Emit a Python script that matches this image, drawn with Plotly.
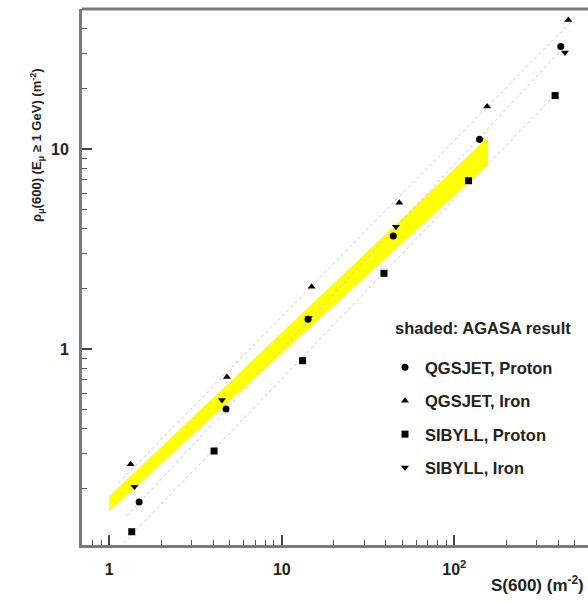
import numpy as np
import plotly.graph_objects as go

# ---- data ----
qgs_fe_s = [1.33, 4.81, 14.9, 48.0, 155, 458]
qgs_fe_rho = [0.265, 0.724, 2.05, 5.39, 16.3, 44.2]

qgs_p_s = [1.49, 4.75, 14.2, 44.3, 140, 414]
qgs_p_rho = [0.172, 0.501, 1.41, 3.67, 11.2, 32.5]

sib_p_s = [1.35, 4.05, 13.2, 39.1, 121, 384]
sib_p_rho = [0.122, 0.309, 0.874, 2.39, 6.94, 18.5]

sib_fe_s = [1.40, 4.50, 14.3, 45.9, 141, 438]
sib_fe_rho = [0.205, 0.556, 1.43, 4.09, 11.1, 30.4]

agasa_s = [1.0, 157]
agasa_hi = [0.184, 11.5]
agasa_lo = [0.155, 8.4]

x_tickvals = [1, 10, 100]
x_ticktext = ["<b>1</b>", "<b>10</b>", "<b>10<sup>2</sup></b>"]
y_tickvals = [0.1, 1, 10]
y_ticktext = ["<b>10<sup>-1</sup></b>", "<b>1</b>", "<b>10</b>"]

FONT = "Liberation Sans, Arial, sans-serif"

fig = go.Figure()

# AGASA shaded band
fig.add_trace(go.Scatter(
    x=agasa_s + agasa_s[::-1], y=agasa_hi + agasa_lo[::-1],
    fill="toself", fillcolor="#ffff00", line=dict(width=0), mode="lines",
    showlegend=False, hoverinfo="skip"))

# faint fit lines through the simulated sets
for xs, ys in [(qgs_fe_s, qgs_fe_rho), (qgs_p_s, qgs_p_rho), (sib_p_s, sib_p_rho)]:
    k, c = np.polyfit(np.log10(xs), np.log10(ys), 1)
    lx = np.array([min(xs) * 0.85, max(xs) * 1.05])
    fig.add_trace(go.Scatter(x=lx, y=10 ** (c + k * np.log10(lx)), mode="lines",
                             line=dict(color="#c8c8c8", width=1, dash="dot"),
                             showlegend=False, hoverinfo="skip"))

series = [
    ("QGSJET, Proton", qgs_p_s, qgs_p_rho, "circle", 7),
    ("QGSJET, Iron", qgs_fe_s, qgs_fe_rho, "triangle-up", 7),
    ("SIBYLL, Proton", sib_p_s, sib_p_rho, "square", 7),
    ("SIBYLL, Iron", sib_fe_s, sib_fe_rho, "triangle-down", 7),
]
for i, (name, xs, ys, sym, sz) in enumerate(series):
    fig.add_trace(go.Scatter(x=xs, y=ys, mode="markers", name=f"<b>{name}</b>",
                             legendgroup=f"g{i}",
                             marker=dict(symbol=sym, size=sz, color="black")))

W, H = 588, 603
L, R, T, B = 82, 0, 9, 58

axis_common = dict(
    type="log", showgrid=False, zeroline=False,
    showline=True, linecolor="#7a7a7a", linewidth=3,
    ticks="inside", ticklen=10, tickwidth=1.5, tickcolor="#444",
    tickfont=dict(family=FONT, size=16, color="#222"),
)

fig.update_layout(
    width=W, height=H,
    margin=dict(l=L, r=R, t=T, b=B),
    paper_bgcolor="white", plot_bgcolor="white",
    font=dict(family=FONT, color="#222"),
    xaxis=dict(**axis_common, range=[-0.158, 2.775], mirror=False,
               tickvals=x_tickvals, ticktext=x_ticktext, ticklabelstandoff=8,
               minor=dict(ticks="inside", ticklen=5, tickwidth=1.2, tickcolor="#555",
                          tickvals=[0.8, 0.9, 2, 3, 4, 5, 6, 7, 8, 9,
                                    20, 30, 40, 50, 60, 70, 80, 90, 200, 300, 400, 500])),
    yaxis=dict(**axis_common, range=[-0.98, 1.70],
               tickvals=y_tickvals, ticktext=y_ticktext, ticklabelstandoff=7,
               minor=dict(ticks="inside", ticklen=5, tickwidth=1.2, tickcolor="#555",
                          tickvals=[0.2, 0.3, 0.4, 0.5, 0.6, 0.7, 0.8, 0.9,
                                    2, 3, 4, 5, 6, 7, 8, 9, 20, 30, 40])),
    legend=dict(x=(385 - L) / (W - L), y=(545 - 350) / (H - T - B), xanchor="left", yanchor="top",
                bgcolor="rgba(0,0,0,0)", borderwidth=0,
                font=dict(family=FONT, size=16.5, color="#222"),
                tracegroupgap=9, itemwidth=30),
    showlegend=True,
)

# top frame line
fig.add_shape(type="line", xref="paper", yref="paper", x0=0, x1=1, y0=1, y1=1,
              line=dict(color="#7a7a7a", width=3))

fig.add_annotation(text="<b>shaded: AGASA result</b>", xref="paper", yref="paper",
                   x=(393 - L) / (W - L), y=(545 - 328) / (H - T - B),
                   xanchor="left", yanchor="middle", showarrow=False,
                   font=dict(family=FONT, size=16.5, color="#222"))

fig.add_annotation(text="<b>S(600) (m<sup>-2</sup>)</b>", xref="paper", yref="paper",
                   x=(W - 2 - L) / (W - L), y=-(584 - 545) / (H - T - B),
                   xanchor="right", yanchor="middle", showarrow=False,
                   font=dict(family=FONT, size=17, color="#222"))

fig.add_annotation(text="<b>ρ<sub>μ</sub>(600) (E<sub>μ</sub> ≥ 1 GeV) (m<sup>-2</sup>)</b>",
                   xref="paper", yref="paper", textangle=-90,
                   x=-(L - 37) / (W - L), y=(545 - 145) / (H - T - B),
                   xanchor="center", yanchor="middle", showarrow=False,
                   font=dict(family=FONT, size=13, color="#222"))

fig.write_html("out.html")
